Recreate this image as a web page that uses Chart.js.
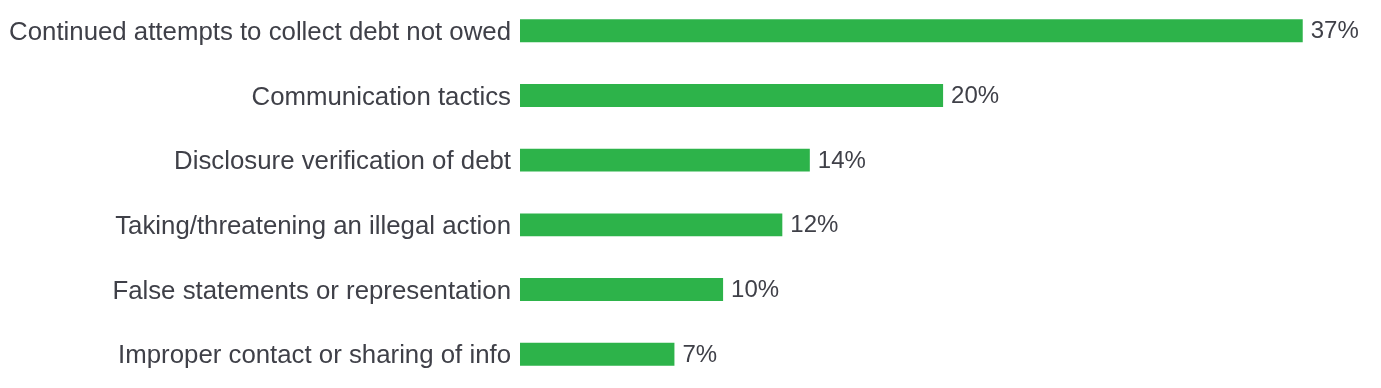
<!DOCTYPE html>
<html lang="en">
  <head>
    <meta charset="UTF-8" />
    <title>Debt collection complaints</title>
    <script src="https://cdn.jsdelivr.net/npm/chart.js"></script>
    <style>
      html, body { margin: 0; padding: 0; background: #fff; overflow: hidden; }
      /* taller than the window so the y-axis label padding falls off the edges */
      .wrap { position: relative; top: -26px; width: 1381px; height: 437px; }
    </style>
  </head>
  <body>
    <div class="wrap">
      <canvas id="issuesChart"></canvas>
    </div>
    <script>
      // categories and values
      const categories = [
        "Continued attempts to collect debt not owed",
        "Communication tactics",
        "Disclosure verification of debt",
        "Taking/threatening an illegal action",
        "False statements or representation",
        "Improper contact or sharing of info",
      ];
      const shares = [37, 20, 13.7, 12.4, 9.6, 7.3];
      const shareLabels = ["37%", "20%", "14%", "12%", "10%", "7%"];

      const textColor = "#3f4048";
      const barColor = "#2db34a";
      const fontFamily = "'Liberation Sans', Arial, Helvetica, sans-serif";

      // draws the percent text just past the end of each bar
      const valueLabels = {
        id: "valueLabels",
        afterDatasetsDraw(chart) {
          const ctx = chart.ctx;
          const meta = chart.getDatasetMeta(0);
          ctx.save();
          ctx.font = "24px " + fontFamily;
          ctx.fillStyle = textColor;
          ctx.textAlign = "left";
          ctx.textBaseline = "middle";
          meta.data.forEach((bar, i) => {
            ctx.fillText(shareLabels[i], bar.x + 8, bar.y + 1);
          });
          ctx.restore();
        },
      };

      const ctx = document.getElementById("issuesChart").getContext("2d");
      new Chart(ctx, {
        type: "bar",
        data: {
          labels: categories,
          datasets: [
            {
              data: shares,
              backgroundColor: barColor,
              borderWidth: 0,
              barPercentage: 0.354,
              categoryPercentage: 1,
            },
          ],
        },
        options: {
          indexAxis: "y",
          responsive: true,
          maintainAspectRatio: false,
          animation: false,
          layout: { padding: 0 },
          plugins: {
            legend: { display: false },
            tooltip: { enabled: false },
          },
          scales: {
            x: {
              display: false,
              min: 0,
              max: 40.7,
            },
            y: {
              grid: { display: false, drawTicks: false },
              border: { display: false },
              ticks: {
                color: textColor,
                padding: 9,
                labelOffset: 2,
                font: { family: fontFamily, size: 25.8 },
              },
              afterFit(scale) {
                scale.width = 520;
              },
            },
          },
        },
        plugins: [valueLabels],
      });
    </script>
  </body>
</html>
